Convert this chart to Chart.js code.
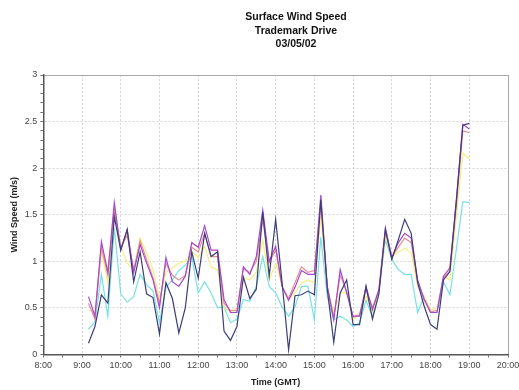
<!DOCTYPE html>
<html>
<head>
<meta charset="utf-8">
<script src="https://cdn.jsdelivr.net/npm/chart.js@4.4.1/dist/chart.umd.min.js"></script>
<style>
  html, body { margin: 0; padding: 0; background: #fff; }
  #wrap { position: relative; width: 519px; height: 390px; }
  canvas { display: block; }
  #title {
    position: absolute; top: 10px; left: 196px; width: 200px;
    text-align: center; font: bold 10.5px "Liberation Sans", Arial, sans-serif;
    line-height: 13.5px; color: #111;
  }
</style>
</head>
<body>
<div id="wrap">
  <div id="title">Surface Wind Speed<br>Trademark Drive<br>03/05/02</div>
  <canvas id="chart" width="519" height="390"></canvas>
</div>
<script>
// 10分おきの観測時刻
const times = [
    "9:10", "9:20", "9:30", "9:40", "9:50",
    "10:00", "10:10", "10:20", "10:30", "10:40", "10:50",
    "11:00", "11:10", "11:20", "11:30", "11:40", "11:50",
    "12:00", "12:10", "12:20", "12:30", "12:40", "12:50",
    "13:00", "13:10", "13:20", "13:30", "13:40", "13:50",
    "14:00", "14:10", "14:20", "14:30", "14:40", "14:50",
    "15:00", "15:10", "15:20", "15:30", "15:40", "15:50",
    "16:00", "16:10", "16:20", "16:30", "16:40", "16:50",
    "17:00", "17:10", "17:20", "17:30", "17:40", "17:50",
    "18:00", "18:10", "18:20", "18:30", "18:40", "18:50",
    "19:00"
];

const navy = [
    0.12, 0.30, 0.64, 0.55, 1.48,
    1.12, 1.34, 0.78, 1.10, 0.65, 0.61,
    0.22, 0.77, 0.60, 0.23, 0.50, 1.10,
    0.82, 1.30, 1.05, 1.10, 0.25, 0.15,
    0.30, 0.83, 0.60, 0.70, 1.53, 0.84,
    1.45, 0.77, 0.05, 0.63, 0.64, 0.68,
    0.64, 1.66, 0.70, 0.13, 0.66, 0.80,
    0.32, 0.32, 0.73, 0.38, 0.65, 1.34,
    1.02, 1.23, 1.45, 1.30, 0.77, 0.52,
    0.32, 0.27, 0.80, 0.89, 1.65, 2.46,
    2.48
];

const purple = [
    0.62, 0.41, 1.21, 0.88, 1.63,
    1.12, 1.34, 0.88, 1.18, 0.98, 0.80,
    0.50, 1.04, 0.78, 0.73, 0.84, 1.20,
    1.15, 1.38, 1.12, 1.12, 0.59, 0.45,
    0.45, 0.94, 0.86, 1.05, 1.55, 1.00,
    1.16, 0.73, 0.58, 0.72, 0.90, 0.86,
    0.86, 1.71, 0.73, 0.37, 0.91, 0.66,
    0.41, 0.41, 0.73, 0.48, 0.70, 1.36,
    1.04, 1.20, 1.30, 1.25, 0.80, 0.59,
    0.45, 0.45, 0.84, 0.93, 1.66, 2.47,
    2.42
];

const salmon = [
    0.55, 0.38, 1.15, 0.85, 1.55,
    1.15, 1.28, 0.90, 1.22, 1.02, 0.82,
    0.55, 0.98, 0.85, 0.80, 0.85, 1.15,
    1.10, 1.30, 1.05, 1.05, 0.55, 0.47,
    0.47, 0.92, 0.88, 1.00, 1.45, 0.98,
    1.12, 0.73, 0.60, 0.77, 0.94, 0.88,
    0.90, 1.62, 0.72, 0.40, 0.85, 0.68,
    0.40, 0.42, 0.70, 0.50, 0.68, 1.32,
    1.05, 1.15, 1.25, 1.20, 0.78, 0.60,
    0.46, 0.47, 0.82, 0.90, 1.60, 2.40,
    2.38
];

const yellow = [
    0.48, 0.45, 1.10, 0.77, 1.50,
    1.16, 0.98, 0.91, 1.25, 1.09, 0.91,
    0.59, 0.88, 0.93, 0.98, 1.00, 1.10,
    1.04, 1.16, 0.94, 0.91, 0.50, 0.46,
    0.50, 0.82, 0.80, 0.88, 1.23, 0.80,
    0.98, 0.73, 0.59, 0.66, 0.77, 0.80,
    0.77, 1.48, 0.73, 0.45, 0.66, 0.66,
    0.37, 0.45, 0.63, 0.45, 0.68, 1.27,
    1.05, 1.10, 1.14, 1.09, 0.73, 0.62,
    0.48, 0.50, 0.84, 0.80, 1.48, 2.16,
    2.10
];

const cyan = [
    0.27, 0.35, 0.86, 0.41, 1.36,
    0.65, 0.56, 0.62, 0.86, 0.75, 0.68,
    0.34, 0.72, 0.80, 0.90, 0.96, 1.05,
    0.66, 0.78, 0.66, 0.50, 0.51, 0.34,
    0.38, 0.59, 0.57, 0.73, 1.05, 0.73,
    0.66, 0.51, 0.41, 0.51, 0.73, 0.73,
    0.37, 1.26, 0.62, 0.37, 0.41, 0.37,
    0.30, 0.34, 0.58, 0.40, 0.68, 1.23,
    1.02, 0.91, 0.86, 0.86, 0.45, 0.62,
    0.45, 0.45, 0.78, 0.64, 1.13, 1.64,
    1.63
];

// "9:10" -> 9.1666 (時間)
function toHours(t) {
    let p = t.split(":");
    return Number(p[0]) + Number(p[1]) / 60;
}

function series(values) {
    return values.map((v, i) => ({ x: toHours(times[i]), y: v }));
}

function isStep(v, step) {
    return Math.abs(v / step - Math.round(v / step)) < 1e-6;
}

const font = "'Liberation Sans', Arial, sans-serif";

function line(label, values, color) {
    return {
        label: label,
        data: series(values),
        borderColor: color,
        borderWidth: 1.2,
        pointRadius: 0,
        tension: 0,
        fill: false
    };
}

new Chart(document.getElementById("chart"), {
    type: "line",
    data: {
        datasets: [
            line("navy", navy, "#3d3d7a"),
            line("purple", purple, "#a847cf"),
            line("salmon", salmon, "#e59090"),
            line("yellow", yellow, "#f3ef80"),
            line("cyan", cyan, "#76e2e6")
        ]
    },
    options: {
        responsive: false,
        animation: false,
        layout: { padding: { top: 75, left: 9, right: 0, bottom: 2 } },
        plugins: {
            legend: { display: false },
            tooltip: { enabled: false }
        },
        scales: {
            x: {
                type: "linear",
                min: 8,
                max: 20,
                // 右端の "20:00" ははみ出してよい
                afterFit: scale => { scale.paddingRight = 11; },
                border: {
                    color: "#555",
                    width: 1.5,
                    dash: ctx => (ctx.tick && (ctx.tick.value === 20 || ctx.tick.value === 8)) ? [] : [2, 2]
                },
                grid: {
                    color: ctx => {
                        if (!ctx.tick) return "#d4d4d4";
                        if (ctx.tick.value === 20) return "#aaa";
                        return isStep(ctx.tick.value, 1) ? "#d4d4d4" : "rgba(0,0,0,0)";
                    },
                    tickColor: "#666",
                    tickLength: 3
                },
                ticks: {
                    stepSize: 0.5,
                    autoSkip: false,
                    maxRotation: 0,
                    color: "#444",
                    font: { family: font, size: 9 },
                    padding: 3,
                    callback: v => isStep(v, 1) ? v + ":00" : ""
                },
                title: {
                    display: true,
                    text: "Time (GMT)",
                    color: "#222",
                    font: { family: font, size: 9, weight: "bold" },
                    padding: { top: 3, bottom: 0 }
                }
            },
            y: {
                min: 0,
                max: 3,
                border: {
                    color: "#555",
                    width: 1.5,
                    dash: ctx => (ctx.tick && (ctx.tick.value === 3 || ctx.tick.value === 0)) ? [] : [2, 2]
                },
                grid: {
                    color: ctx => {
                        if (!ctx.tick) return "#d4d4d4";
                        if (isStep(ctx.tick.value, 3)) return "#aaa";
                        return isStep(ctx.tick.value, 0.5) ? "#d4d4d4" : "rgba(0,0,0,0)";
                    },
                    tickColor: "#777",
                    tickLength: 3
                },
                ticks: {
                    stepSize: 0.1,
                    maxTicksLimit: 100,
                    autoSkip: false,
                    color: "#444",
                    font: { family: font, size: 9 },
                    padding: 3,
                    callback: v => isStep(v, 0.5) ? String(Math.round(v * 10) / 10) : ""
                },
                title: {
                    display: true,
                    text: "Wind Speed (m/s)",
                    color: "#222",
                    font: { family: font, size: 9, weight: "bold" },
                    padding: { top: 0, bottom: 2 }
                }
            }
        }
    }
});
</script>
</body>
</html>
